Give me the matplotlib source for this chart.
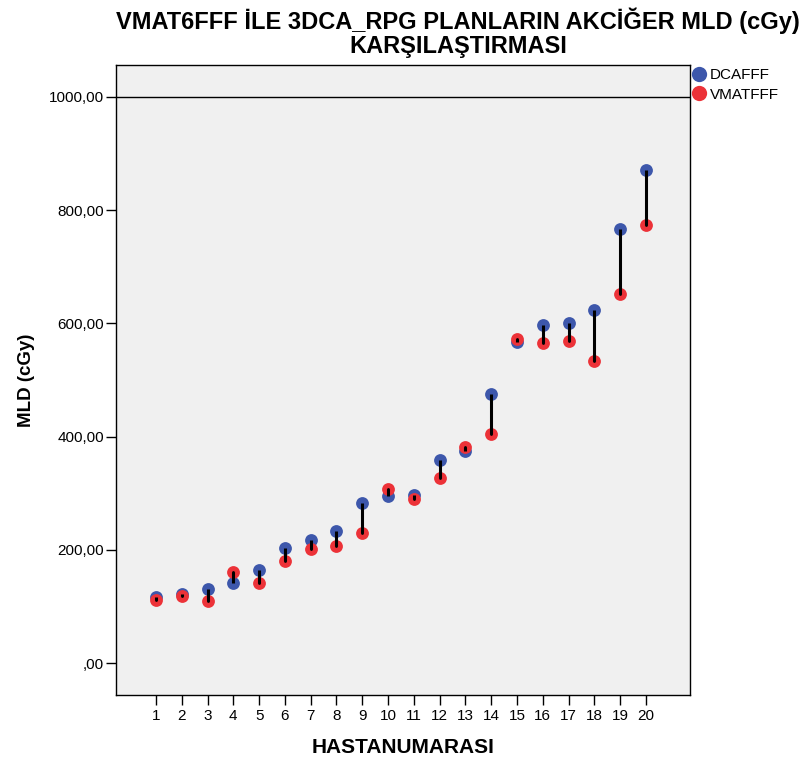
import numpy as np
import matplotlib.pyplot as plt
from matplotlib.lines import Line2D

plt.rcParams['font.family'] = ['Liberation Sans', 'DejaVu Sans']

# Hasta bazinda akciger MLD (cGy) degerleri
hasta_no = list(range(1, 21))
dcafff = [117, 122, 130, 142, 164, 204, 217, 233, 283, 295,
          297, 359, 375, 475, 568, 597, 601, 623, 766, 871]
vmatfff = [111, 118, 109, 160, 142, 180, 201, 206, 229, 307,
           290, 327, 381, 404, 573, 565, 569, 534, 652, 773]
y_ticks = [0, 200, 400, 600, 800, 1000]
y_tick_labels = [',00', '200,00', '400,00', '600,00', '800,00', '1000,00']

renk_dca = '#3d57ab'
renk_vmat = '#ec3238'

fig = plt.figure(figsize=(8.05, 7.63), dpi=100)
ax = fig.add_axes([0.1441, 0.0891, 0.7130, 0.8257])
ax.set_facecolor('#f0f0f0')

# referans cizgisi
ax.axhline(1000, color='black', linewidth=1.0, zorder=1)

ax.scatter(hasta_no, dcafff, s=85, color=renk_dca, zorder=3, linewidths=0)
ax.scatter(hasta_no, vmatfff, s=85, color=renk_vmat, zorder=4, linewidths=0)
# iki plan arasindaki fark cizgileri
ax.vlines(hasta_no, dcafff, vmatfff, color='black', linewidth=2.2, zorder=5)
ax.scatter(hasta_no, vmatfff, s=4, color='black', zorder=6, linewidths=0)

ax.set_xlim(-0.55, 21.71)
ax.set_ylim(-56.5, 1056.5)
ax.set_xticks(hasta_no)
ax.set_xticklabels([str(h) for h in hasta_no])
ax.set_yticks(y_ticks)
ax.set_yticklabels(y_tick_labels)
ax.tick_params(axis='both', direction='out', length=7, width=1, labelsize=11, colors='black')
ax.tick_params(axis='y', pad=1.5)
ax.tick_params(axis='x', pad=3)
for sp in ax.spines.values():
    sp.set_linewidth(1.0)

ax.set_xlabel('HASTANUMARASI', fontsize=15, fontweight='bold', labelpad=11)
ax.set_ylabel('MLD (cGy)', fontsize=13.5, fontweight='bold', labelpad=10)

fig.text(0.569, 1 - 8 / 763, 'VMAT6FFF İLE 3DCA_RPG PLANLARIN AKCİĞER MLD (cGy)\nKARŞILAŞTIRMASI',
         ha='center', va='top', fontsize=17, fontweight='bold', linespacing=1.05)

handles = [Line2D([], [], marker='o', linestyle='none', markersize=11, color=renk_dca, markeredgewidth=0),
           Line2D([], [], marker='o', linestyle='none', markersize=11, color=renk_vmat, markeredgewidth=0)]
fig.legend(handles, ['DCAFFF', 'VMATFFF'], loc='upper left', bbox_to_anchor=(0.853, 0.915),
           frameon=False, fontsize=11, handletextpad=0.1, labelspacing=0.38, handlelength=1.2,
           borderaxespad=0, borderpad=0.2)

plt.savefig('out.png', dpi=100)
